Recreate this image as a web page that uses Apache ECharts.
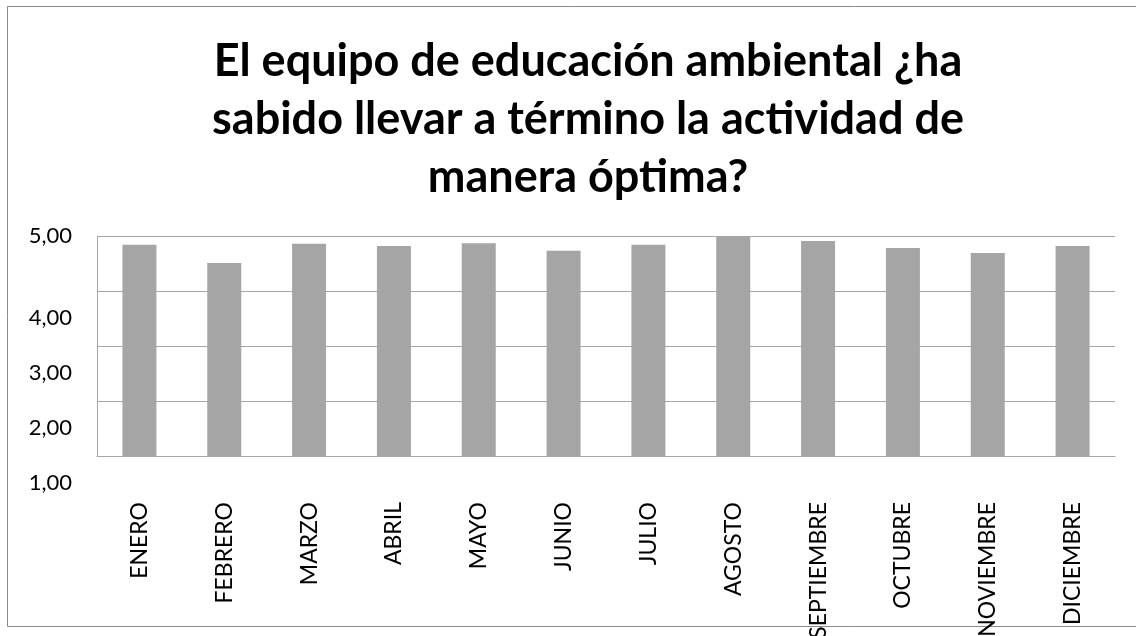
<!DOCTYPE html>
<html>
<head>
<meta charset="utf-8">
<script src="https://cdn.jsdelivr.net/npm/echarts@6/dist/echarts.min.js"></script>
<style>
html,body{margin:0;padding:0;background:#fff;}
#c{width:1136px;height:636px;}
</style>
</head>
<body>
<div id="c"></div>
<script>
const titleText = 'El equipo de educación ambiental ¿ha\nsabido llevar a término la actividad de\nmanera óptima?';
const categories = ['ENERO','FEBRERO','MARZO','ABRIL','MAYO','JUNIO','JULIO','AGOSTO','SEPTIEMBRE','OCTUBRE','NOVIEMBRE','DICIEMBRE'];
const values = [4.84, 4.51, 4.86, 4.82, 4.87, 4.73, 4.84, 5.00, 4.91, 4.78, 4.69, 4.82];
const yMin = 1, yMax = 5, yStep = 1;

const chart = echarts.init(document.getElementById('c'));
chart.setOption({
  backgroundColor: '#ffffff',
  animation: false,
  title: {
    text: titleText,
    left: 583,
    top: 27,
    textAlign: 'center',
    textStyle: {
      fontFamily: 'Lato',
      fontWeight: 'bold',
      fontSize: 45,
      lineHeight: 58,
      color: '#000000'
    }
  },
  graphic: [{
    type: 'rect',
    shape: {x: 7.5, y: 6.5, width: 1140, height: 620},
    style: {fill: 'none', stroke: '#8a8a8a', lineWidth: 1},
    silent: true
  }],
  grid: {left: 97, right: 21, top: 236, bottom: 180, containLabel: false, outerBoundsMode: 'none'},
  xAxis: {
    type: 'category',
    data: categories,
    axisLine: {show: true, lineStyle: {color: '#a6a6a6', width: 1}},
    axisTick: {show: false},
    axisLabel: {
      rotate: 90,
      margin: 46,
      interval: 0,
      fontFamily: 'Lato',
      fontSize: 23,
      color: '#000000'
    }
  },
  yAxis: {
    type: 'value',
    min: yMin,
    max: yMax,
    interval: yStep,
    axisLine: {show: true, lineStyle: {color: '#a6a6a6', width: 1}},
    axisTick: {show: false},
    splitLine: {show: true, lineStyle: {color: '#a6a6a6', width: 1}},
    axisLabel: {
      margin: 25,
      fontFamily: 'Lato',
      fontSize: 22,
      color: '#000000',
      formatter: function (v) {
        const s = v.toFixed(2).replace('.', ',');
        return v === yMax ? '{t|' + s + '}' : '{s|' + s + '}';
      },
      rich: {
        t: {fontFamily: 'Lato', fontSize: 22, color: '#000000'},
        s: {fontFamily: 'Lato', fontSize: 22, color: '#000000', padding: [54, 0, 0, 0]}
      }
    }
  },
  series: [{
    type: 'bar',
    data: values,
    barWidth: 34,
    itemStyle: {color: '#a5a5a5'}
  }]
});
</script>
</body>
</html>
